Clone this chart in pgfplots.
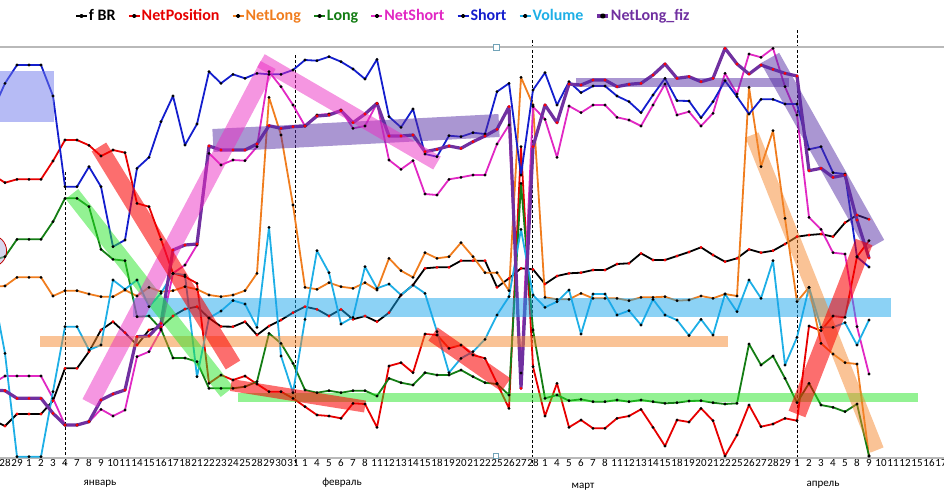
\documentclass[border=0pt]{standalone}
\usepackage{fontspec}
\setmainfont{Carlito}
\usepackage{pgfplots}
\usepackage{pgfplotstable}
\pgfplotsset{compat=1.18}
\definecolor{cNP}{RGB}{230,0,0}
\definecolor{cNL}{RGB}{240,125,30}
\definecolor{cLG}{RGB}{20,125,20}
\definecolor{cNS}{RGB}{225,40,195}
\definecolor{cSH}{RGB}{20,30,205}
\definecolor{cVO}{RGB}{30,175,230}
\definecolor{cFZ}{RGB}{112,48,160}
\definecolor{bBlue}{RGB}{110,120,235}
\definecolor{bRed}{RGB}{250,0,0}
\definecolor{bGreen}{RGB}{40,230,40}
\definecolor{bPink}{RGB}{235,45,195}
\definecolor{bPurple}{RGB}{85,45,165}
\definecolor{bOrange}{RGB}{245,135,45}
\definecolor{bCyan}{RGB}{25,165,235}
\pgfplotstableread{
i fbr np nl lg ns sh vo fz
-1 420 175 286.7 260 383.3 110 290 390
0 426 182.7 286 256.7 376 83.3 353.3 390.7
1 414 179.3 277.3 239.3 376 65 456.7 398.3
2 414 179.3 277.3 239.3 376 65 456.7 398.3
3 414 179.3 277.3 239.3 376 65 456.7 398.3
4 400.7 161 296 221.7 398.3 96 391.7 413.3
5 368.3 140 290.7 198.3 425 186.7 326.7 425
6 368.3 140 290.7 198.3 425 186.7 326.7 425
7 351.7 145.3 294 206.7 421.7 166.7 350 421.7
8 330 156 296.7 249.3 409.3 186.7 345 400
9 321.7 150 296.7 259.3 416 246.7 280 394
10 332.7 152.7 290 260.7 410 240 289.3 390
11 345 203.3 296 316.7 356.7 168.3 280 336.7
12 330 206.7 287.3 316 351.7 157.3 306.7 336
13 327 239.3 291.7 329 330 121.7 293.3 323.3
14 316 273.3 290.7 358 273.3 96 273.3 250
15 309 276.7 286.7 358 265 145 275 245
16 306.7 283.3 289.3 361.7 245 124 376.7 244
17 318 383.3 295 388.3 153.3 71.7 318 146
18 326.5 375 296.7 388.3 165 83.3 311 150
19 326.7 380 295 388.3 160 74.3 300.5 150
20 321.7 376 290.7 386.7 160.7 78.3 304 150
21 335 384 273.3 381.7 146.7 73.3 327.3 144
22 326 391.7 97.3 333.3 71.7 74.3 227.3 125.7
23 320 391.7 135 343.3 86.7 74.3 356 128.3
24 312.7 398.3 205 363.3 105 70 392.7 126.7
25 306.7 406.7 287.3 390 126 60 319.3 126
26 309.3 415 289.3 392.7 115 60.7 250.7 116
27 316 416 282.7 390.7 114 56.7 272.7 115
28 309.3 418.3 286.7 392.7 110 61.7 324 110.7
29 319.3 403.3 288.3 390.7 128.3 69 317.3 122.7
30 316 404 282.7 390.7 126 79 266.7 114
31 321.7 427.3 290 396 103.3 59.3 288.3 103.3
32 312.7 366 258.3 378.3 160 116.7 284 136
33 295 362.7 270.7 382.7 169.3 127.3 295 136
34 285 372.7 277.3 385 160.7 109 285 135
35 268.3 334 252.7 372.7 194 154 293.3 151.7
36 267.3 335 258.3 375 195 156.7 331.7 149.3
37 267.3 348.3 256.7 375 179.3 135.7 372.7 146
38 260.7 345 242.7 370 177.3 136.7 358.3 148.3
39 260.7 355 256.7 376.7 175 132.7 351.7 141.7
40 260.7 358.3 272.7 382.7 175 134 339.3 136
41 287.3 383.3 272.7 384 144 91.7 315 129.3
42 278.3 408.3 290.7 395 125 83.3 296.7 106.7
43 268.3 146.7 77.3 183.3 373 175 229.3 388.3
44 269.3 366.7 105 330 106.7 90 295 146.7
45 284 416 297.3 398.3 119.3 72.7 307.3 105
46 276 383.3 299.3 395 157.3 105 301.7 122.7
47 273.3 427.3 299.3 400.7 106 81.7 290 84
48 272.7 420 293.3 399.3 112.7 92.7 334 85
49 270 428.3 298.3 401.7 105 86 294 80
50 270 428.3 298.3 401.7 105 86 294 80
51 264 418.3 298.3 400 117.3 96 315 86.7
52 263.3 416 300.7 401.7 120 101.7 310.7 84.3
53 253.3 409.3 297.3 400 126 112.7 325 83.3
54 260 427.3 297.3 401.7 105 95 299.3 75
55 260 446 296.7 403.3 84 78.3 315 64
56 256 420 300.7 402.7 115 100.7 320 78.3
57 252 422 300 401 111.7 101 335.5 76.7
58 247.3 408.3 296 400.7 126 117.7 319.3 81.7
59 255 420.7 298.3 402.7 113.3 101.7 335 78.3
60 261.7 456 294 404 73.3 80.7 294 48.3
61 258.3 435 296 403.3 94 96.7 311.7 64
62 249.3 405 87.3 344 54 114 280 74
63 252.7 426.7 166.7 365 57.3 99.3 298.3 65
64 250.7 424 130.7 356 48.3 99.3 260.7 69.3
65 244 418.3 218.3 378.3 86.7 104 365 73.3
66 236.7 420.7 301.7 402.7 115 104 337.3 76
67 235 326 287.3 383.3 217.3 149.3 287.3 170.7
68 234 330.7 343.3 405 229.3 146.7 327.3 168.3
69 236.7 316 354 407.3 252.7 172.7 327.3 177.3
70 222.7 317.3 362.7 411.7 254 174 322.7 175
71 215 256.7 364 404 326.7 257 345 220
72 219.3 240.7 456 456 374 267 320 258
}\data
\begin{document}
\begin{tikzpicture}
\useasboundingbox (0pt,-33pt) rectangle (944pt,466pt);
\begin{axis}[
  at={(0pt,0pt)}, anchor=south west,
  scale only axis, width=944pt, height=438pt,
  xmin=-0.416667, xmax=78.25,
  ymin=28, ymax=466, y dir=reverse,
  axis line style={draw=none},
  ytick=\empty,
  xtick={0,...,78},
  xticklabels={28,29,1,2,3,4,7,8,9,10,11,14,15,16,17,18,21,22,23,24,25,28,29,30,31,1,4,5,6,7,8,11,12,13,14,15,18,19,20,21,22,25,26,27,28,1,4,5,6,7,8,11,12,13,14,15,18,19,20,21,22,25,26,27,28,29,1,2,3,4,5,8,9,10,11,12,15,16,17},
  major tick length=0pt,
  xticklabel style={font=\fontsize{11}{12}\selectfont, inner sep=0pt, yshift=7pt},
  /pgf/number format/assume math mode=true,
  clip=true,
  every axis plot/.append style={line width=1.8pt, mark=*, mark size=1.3pt, line join=round},
  legend columns=-1,
  legend image code/.code={\draw[#1, mark=none] (0pt,0pt) -- (11pt,0pt); \fill[black] (5.5pt,0pt) circle (1.3pt);},
  legend style={at={(0.0794,1.0274)}, anchor=west, draw=none, fill=none,
    font=\bfseries\fontsize{16}{18}\selectfont, inner sep=0pt,
    nodes={inner sep=1pt},
    /tikz/every even column/.append style={column sep=11.3pt}},
]
% dashed separators
\draw[black, line width=0.9pt, dash pattern=on 3pt off 2pt] (axis cs:5,172) -- (axis cs:5,466);
\draw[black, line width=0.9pt, dash pattern=on 3pt off 2pt] (axis cs:24.17,55) -- (axis cs:24.17,466);
\draw[black, line width=0.9pt, dash pattern=on 3pt off 2pt] (axis cs:43.92,40) -- (axis cs:43.92,466);
\draw[black, line width=0.9pt, dash pattern=on 3pt off 2pt] (axis cs:66,30) -- (axis cs:66,466);
% frame lines
\draw[gray!55, line width=1.6pt] (axis cs:-1,47) -- (axis cs:79,47);
\draw[gray!55, line width=1.6pt] (axis cs:-1,458) -- (axis cs:79,458);

\addplot[black, mark options={fill=red, draw=red, line width=0.3pt}] table[x=i,y=fbr] {\data};
\addlegendentry{f BR}
\addplot[cNP, mark options={fill=black, draw=black, line width=0.3pt}] table[x=i,y=np] {\data};
\addlegendentry{\textcolor{cNP}{NetPosition}}
\addplot[cNL, mark options={fill=black, draw=black, line width=0.3pt}] table[x=i,y=nl] {\data};
\addlegendentry{\textcolor{cNL}{NetLong}}
\addplot[cLG, mark options={fill=black, draw=black, line width=0.3pt}] table[x=i,y=lg] {\data};
\addlegendentry{\textcolor{cLG}{Long}}
\addplot[cNS, mark options={fill=black, draw=black, line width=0.3pt}] table[x=i,y=ns] {\data};
\addlegendentry{\textcolor{cNS}{NetShort}}
\addplot[cSH, mark options={fill=black, draw=black, line width=0.3pt}] table[x=i,y=sh] {\data};
\addlegendentry{\textcolor{cSH}{Short}}
\addplot[cVO, mark options={fill=black, draw=black, line width=0.3pt}] table[x=i,y=vo] {\data};
\addlegendentry{\textcolor{cVO}{Volume}}
\addplot[cFZ, line width=3.2pt, mark options={fill=red, draw=red, line width=0.3pt}] table[x=i,y=fz] {\data};
\addlegendentry{\textcolor{cFZ}{NetLong\_fiz}}

% highlight bands
\fill[bBlue, opacity=0.5] (axis cs:-1,71) rectangle (axis cs:4.083,121.7);
\draw[bCyan, opacity=0.5, line width=19pt] (axis cs:10.67,307.5) -- (axis cs:73.83,307.5);
\draw[bOrange, opacity=0.5, line width=11pt] (axis cs:2.92,341.5) -- (axis cs:60.25,341.5);
\draw[bGreen, opacity=0.5, line width=9pt] (axis cs:19.42,397.5) -- (axis cs:76.08,397.5);
\draw[bPurple, opacity=0.5, line width=23pt] (axis cs:17.33,140.5) -- (axis cs:41.17,125.5);
\draw[bPurple, opacity=0.5, line width=9pt] (axis cs:47.58,82.5) -- (axis cs:65.33,82.5);
\draw[bGreen, opacity=0.5, line width=16pt] (axis cs:5.58,194) -- (axis cs:18.5,392);
\draw[bPink, opacity=0.5, line width=17pt] (axis cs:7.083,403) -- (axis cs:21.92,65);
\draw[bRed, opacity=0.57, line width=17pt] (axis cs:7.83,147) -- (axis cs:19.0,365);
\draw[bPink, opacity=0.5, line width=15pt] (axis cs:21.33,60.7) -- (axis cs:36,163);
\draw[bRed, opacity=0.57, line width=12pt] (axis cs:18.83,385) -- (axis cs:30,406.5);
\draw[bRed, opacity=0.57, line width=16pt] (axis cs:35.67,334) -- (axis cs:41.75,385);
\draw[bPurple, opacity=0.5, line width=21pt] (axis cs:63.75,58) -- (axis cs:72.5,245);
\draw[bOrange, opacity=0.5, line width=14pt] (axis cs:62.25,135) -- (axis cs:72.67,450);
\draw[bRed, opacity=0.57, line width=18pt] (axis cs:66,414) -- (axis cs:71.58,242);
% selection marker at left edge
\draw[red!75!black, line width=0.8pt, fill=gray!60!blue!45, fill opacity=0.5] (axis cs:-1.2,251) circle[radius=16pt];
% chart handles
\draw[cyan!40!gray, line width=0.8pt, fill=white] (axis cs:40.92,47) ++(-3pt,-3pt) rectangle ++(6pt,6pt);
\draw[cyan!40!gray, line width=0.8pt, fill=white] (axis cs:40.92,455.5) ++(-2.5pt,-2.5pt) rectangle ++(5pt,5pt);
\end{axis}
\node[font=\fontsize{11}{12}\selectfont, anchor=base] at (100pt,-19pt) {январь};
\node[font=\fontsize{11}{12}\selectfont, anchor=base] at (342pt,-19pt) {февраль};
\node[font=\fontsize{11}{12}\selectfont, anchor=base] at (583pt,-22pt) {март};
\node[font=\fontsize{11}{12}\selectfont, anchor=base] at (823pt,-20pt) {апрель};
\end{tikzpicture}
\end{document}
